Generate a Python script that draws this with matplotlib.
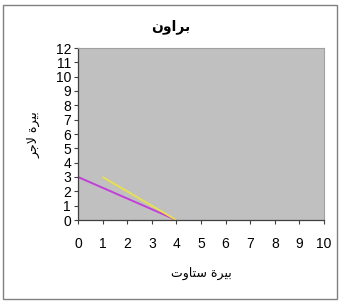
import matplotlib.pyplot as plt
from matplotlib.patches import Rectangle

# data
magenta_x = [0, 4]
magenta_y = [3, 0]
yellow_x = [1, 4]
yellow_y = [3, 0]
x_ticks = list(range(0, 11))
y_ticks = list(range(0, 13))

# Arabic text, pre-shaped (presentation forms, visual order) since matplotlib does no bidi
title_text = "\uFEE5\uFEED\uFE8D\uFEAE\uFE91"                       # براون
ylabel_text = "\uFEAE\uFE9F\uFEFB \uFE93\uFEAE\uFEF4\uFE91"          # بيرة لاجر
xlabel_text = "\uFE95\uFEED\uFE8E\uFE98\uFEB3 \uFE93\uFEAE\uFEF4\uFE91"  # بيرة ستاوت

plt.rcParams['font.family'] = ['Liberation Sans', 'DejaVu Sans']

W, H = 343, 301
fig = plt.figure(figsize=(W / 100, H / 100), dpi=100)
fig.patch.set_facecolor('white')

# outer chart frame
fig.patches.append(Rectangle((3 / W, 2 / H), 334 / W, 294 / H, transform=fig.transFigure,
                             fill=False, edgecolor='#808080', linewidth=1.0))

left, right, top, bottom = 78, 324, 48, 220
ax = fig.add_axes([left / W, 1 - bottom / H, (right - left) / W, (bottom - top) / H])
ax.set_facecolor('#C0C0C0')

ax.plot(magenta_x, magenta_y, color='#C040D8', linewidth=1.4, solid_capstyle='butt')
ax.plot(yellow_x, yellow_y, color='#E8E050', linewidth=1.4, solid_capstyle='butt')

ax.set_xlim(0, 10)
ax.set_ylim(0, 12)
ax.set_xticks(x_ticks)
ax.set_yticks(y_ticks)
ax.tick_params(axis='both', direction='out', length=3, width=0.8, color='#404040',
               labelsize=10, labelcolor='black')
ax.tick_params(axis='x', pad=9)
ax.tick_params(axis='y', pad=2)

for side in ['left', 'bottom']:
    ax.spines[side].set_color('#404040')
    ax.spines[side].set_linewidth(0.9)
for side in ['top', 'right']:
    ax.spines[side].set_color('#A0A0A0')
    ax.spines[side].set_linewidth(0.8)

fig.text(171 / W, 1 - 27 / H, title_text, ha='center', va='center',
         fontsize=10, fontweight='bold', family='DejaVu Sans')
fig.text(201 / W, 1 - 273 / H, xlabel_text, ha='center', va='center',
         fontsize=9, family='DejaVu Sans')
fig.text(34 / W, 1 - 135 / H, ylabel_text, ha='center', va='center', rotation=90,
         fontsize=9, family='DejaVu Sans')

fig.savefig('out.png', dpi=100)
